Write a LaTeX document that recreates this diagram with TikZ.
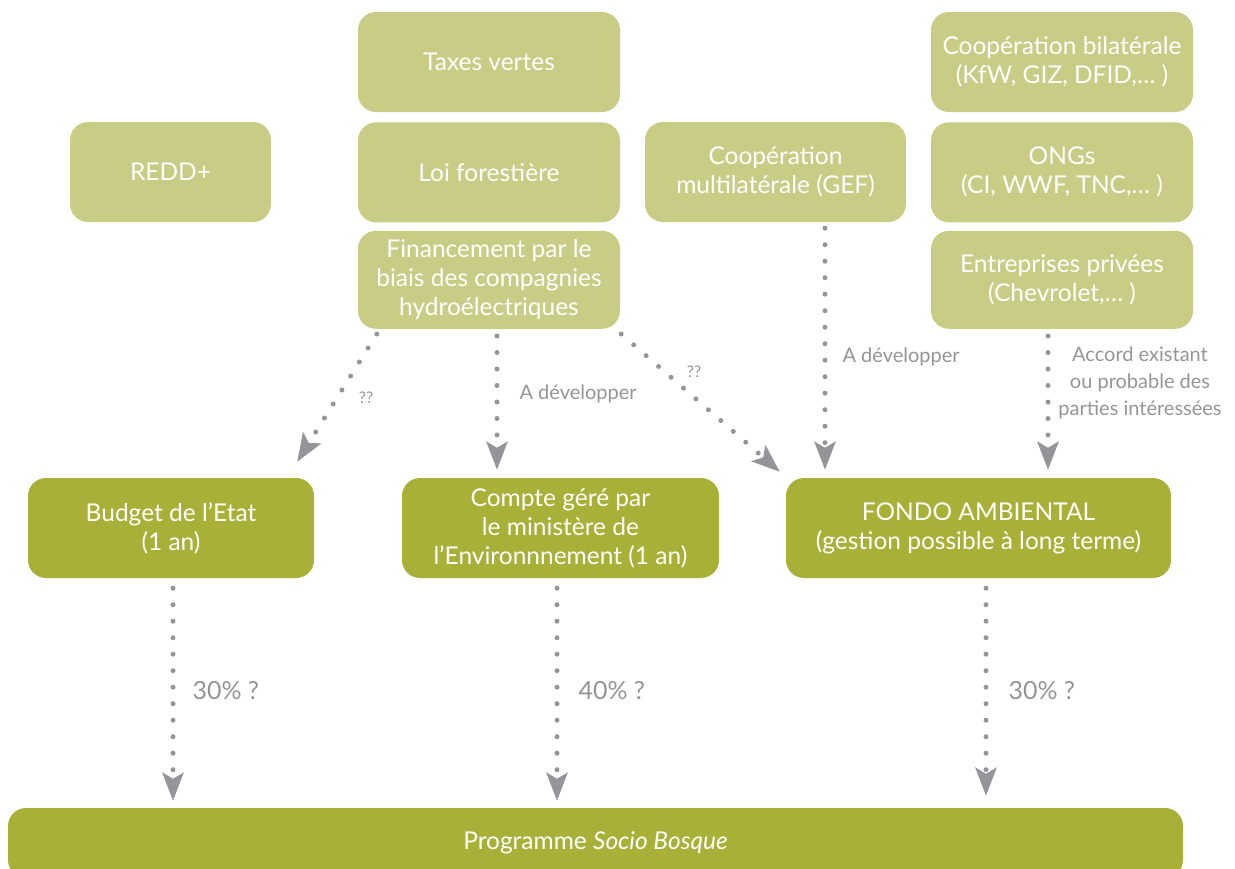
\documentclass[tikz,border=0pt]{standalone}
\usepackage{fontspec}
\setmainfont{Lato}
\usepackage{xcolor}
\usetikzlibrary{positioning}
\usetikzlibrary{arrows.meta}

\definecolor{srcgreen}{HTML}{C9CC85}
\definecolor{fundgreen}{HTML}{A9B038}
\definecolor{flowgrey}{HTML}{939598}

\tikzset{
  src/.style={fill=srcgreen, rounded corners=18pt, text=white, align=center,
    minimum width=262pt, minimum height=100pt, inner sep=0pt,
    font=\fontsize{24.5}{29}\selectfont},
  fund/.style={src, fill=fundgreen},
  flow/.style={flowgrey, line width=5pt, line cap=round, dash pattern=on 0pt off 16.5pt,
    -{Stealth[length=28pt 0 0,width=21pt 0,inset=6pt 0]}},
  lbl/.style={text=flowgrey, font=\fontsize{20}{27}\selectfont, align=center},
  pct/.style={lbl, font=\fontsize{25}{28}\selectfont, anchor=west},
}

\begin{document}
\begin{tikzpicture}[x=1pt,y=1pt]
  \useasboundingbox (0,0) rectangle (1235,-868);

  % sources
  \node(taxes) [src] at (489,-62) {Taxes vertes};
  \node(loi) [src, below=10pt of taxes] {Loi foresti\`ere};
  \node(fin) [src, minimum height=98pt, below=8pt of loi] {Financement par le\\biais des compagnies\\hydro\'electriques};
  \node(redd) [src, minimum width=201pt] at (170.5,-172) {REDD+};
  \node(multi) [src, minimum width=261pt] at (775.5,-172) {Coop\'eration\\multilat\'erale (GEF)};
  \node(bilat) [src] at (1062,-62) {Coop\'eration bilat\'erale\\(KfW, GIZ, DFID,\dots\ )};
  \node(ongs) [src, below=10pt of bilat] {ONGs\\(CI, WWF, TNC,\dots\ )};
  \node(entr) [src, minimum height=98pt, below=8pt of ongs] {Entreprises priv\'ees\\(Chevrolet,\dots\ )};

  % funds
  \node(budget) [fund, minimum width=286pt] at (171,-528) {Budget de l'Etat\\(1 an)};
  \node(compte) [fund, minimum width=317pt] at (560.5,-528) {Compte g\'er\'e par\\le minist\`ere de\\l'Environnnement (1 an)};
  \node(fondo) [fund, minimum width=385pt] at (978.5,-528) {FONDO AMBIENTAL\\(gestion possible \`a long terme)};
  \node(prog) [fund, minimum width=1175pt, minimum height=70pt] at (595.5,-843) {Programme \textit{Socio Bosque}};

  % flows from the sources
  \draw[flow] ([shift={(19pt,-5pt)}]fin.south west) -- ([shift={(-17pt,16pt)}]budget.north east);
  \draw[flow] ([shift={(8pt,-7pt)}]fin.south) coordinate (f2) -- ([yshift=8pt]f2 |- compte.north);
  \draw[flow] ([shift={(1pt,-5pt)}]fin.south east) -- ([shift={(-6pt,6pt)}]fondo.north west);
  \draw[flow] ([shift={(49.5pt,-6pt)}]multi.south) coordinate (m1) -- ([yshift=8pt]m1 |- fondo.north);
  \draw[flow] ([shift={(-14pt,-7pt)}]entr.south) coordinate (e1) -- ([yshift=8pt]e1 |- fondo.north);

  \node(q1) [lbl, font=\fontsize{16}{18}\selectfont] at (366,-398) {??};
  \node(q2) [lbl, font=\fontsize{16}{18}\selectfont] at (694,-372) {??};
  \node(dev1) [lbl, anchor=west] at (516,-394) {A d\'evelopper};
  \node(dev2) [lbl, anchor=west] at (839,-357) {A d\'evelopper};
  \node(accord) [lbl] at (1140,-383) {Accord existant\\ou probable des\\parties int\'eress\'ees};

  % flows to the programme
  \draw[flow] ([shift={(2pt,-10pt)}]budget.south) coordinate (b1) -- ([yshift=7pt]b1 |- prog.north);
  \draw[flow] ([shift={(-3.5pt,-10pt)}]compte.south) coordinate (c1) -- ([yshift=7pt]c1 |- prog.north);
  \draw[flow] ([shift={(7.5pt,-10pt)}]fondo.south) coordinate (d1) -- ([yshift=12pt]d1 |- prog.north);

  \node(p1) [pct] at (189,-691) {30\% ?};
  \node(p2) [pct] at (575,-691) {40\% ?};
  \node(p3) [pct] at (1005,-691) {30\% ?};
\end{tikzpicture}
\end{document}
